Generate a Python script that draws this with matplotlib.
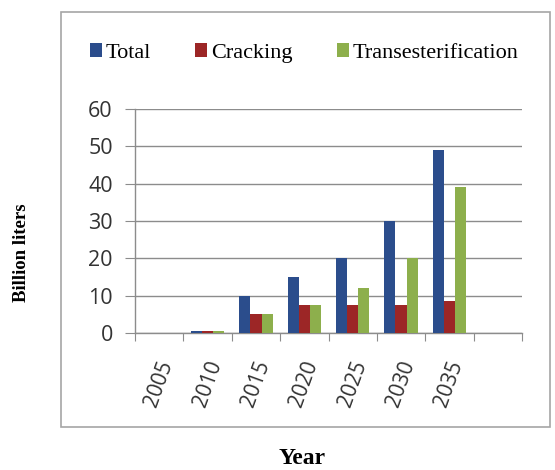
import numpy as np
import matplotlib.pyplot as plt
from matplotlib.patches import Rectangle
from matplotlib.transforms import ScaledTranslation

years = ["2005", "2010", "2015", "2020", "2025", "2030", "2035", ""]
total = [0, 0.5, 10, 15, 20, 30, 49, 0]
cracking = [0, 0.5, 5, 7.5, 7.5, 7.5, 8.5, 0]
transest = [0, 0.5, 5, 7.5, 12, 20, 39, 0]

series = [("Total", total, "#2B4D8C"),
          ("Cracking", cracking, "#9C2626"),
          ("Transesterification", transest, "#8DAF4C")]

W, H = 555, 470
fig = plt.figure(figsize=(W / 100, H / 100), dpi=100)

# chart area border
fig.patches.append(Rectangle((61 / W, 1 - 427 / H), (550 - 61) / W, (427 - 12) / H,
                             transform=fig.transFigure, fill=False,
                             edgecolor="#A6A6A6", linewidth=1.2))

ax = fig.add_axes([135 / W, 1 - 333 / H, (522 - 135) / W, (333 - 109) / H])

x = np.arange(len(years))
bw = 0.23
for i, (name, vals, col) in enumerate(series):
    ax.bar(x + (i - 1) * bw, vals, width=bw, color=col, label=name, zorder=3)

ax.set_xlim(-0.5, len(years) - 0.5)
ax.set_ylim(0, 60)
ax.set_yticks(range(0, 61, 10))
ax.yaxis.grid(True, color="#8C8C8C", linewidth=1.0, zorder=0)
ax.set_xticks(np.arange(-0.5, len(years), 1.0), minor=False)
ax.set_xticklabels([])
ax.set_xticks(x, minor=True)
ax.set_xticklabels(years, minor=True, rotation=70, fontsize=15,
                   family="Open Sans", color="#333333")
shift = ScaledTranslation(-7 / 100, 0, fig.dpi_scale_trans)
for lab in ax.get_xticklabels(minor=True):
    lab.set_transform(lab.get_transform() + shift)
ax.tick_params(axis="x", which="major", length=6, color="#8C8C8C", direction="out")
ax.tick_params(axis="x", which="minor", length=0, pad=18)
ax.tick_params(axis="y", length=7, color="#8C8C8C", labelsize=15.5,
               labelcolor="#333333", pad=9)
for lab in ax.get_yticklabels():
    lab.set_family("Open Sans")

for s in ["top", "right"]:
    ax.spines[s].set_visible(False)
for s in ["left", "bottom"]:
    ax.spines[s].set_color("#8C8C8C")
    ax.spines[s].set_linewidth(1.0)

fig.legend(loc="center", bbox_to_anchor=(304 / W, 1 - 53 / H), ncol=3,
           frameon=False, prop={"family": "Liberation Serif", "size": 16},
           handlelength=0.55, handleheight=0.55, handletextpad=0.15,
           columnspacing=2.0)

fig.text(302 / W, 1 - 459 / H, "Year", ha="center", va="center",
         family="Liberation Serif", fontweight="bold", fontsize=17)
fig.text(22 / W, 1 - 253 / H, "Billion liters", ha="center", va="center",
         rotation=90, family="Liberation Serif", fontweight="bold", fontsize=13.5)

fig.savefig("out.png", dpi=100)
